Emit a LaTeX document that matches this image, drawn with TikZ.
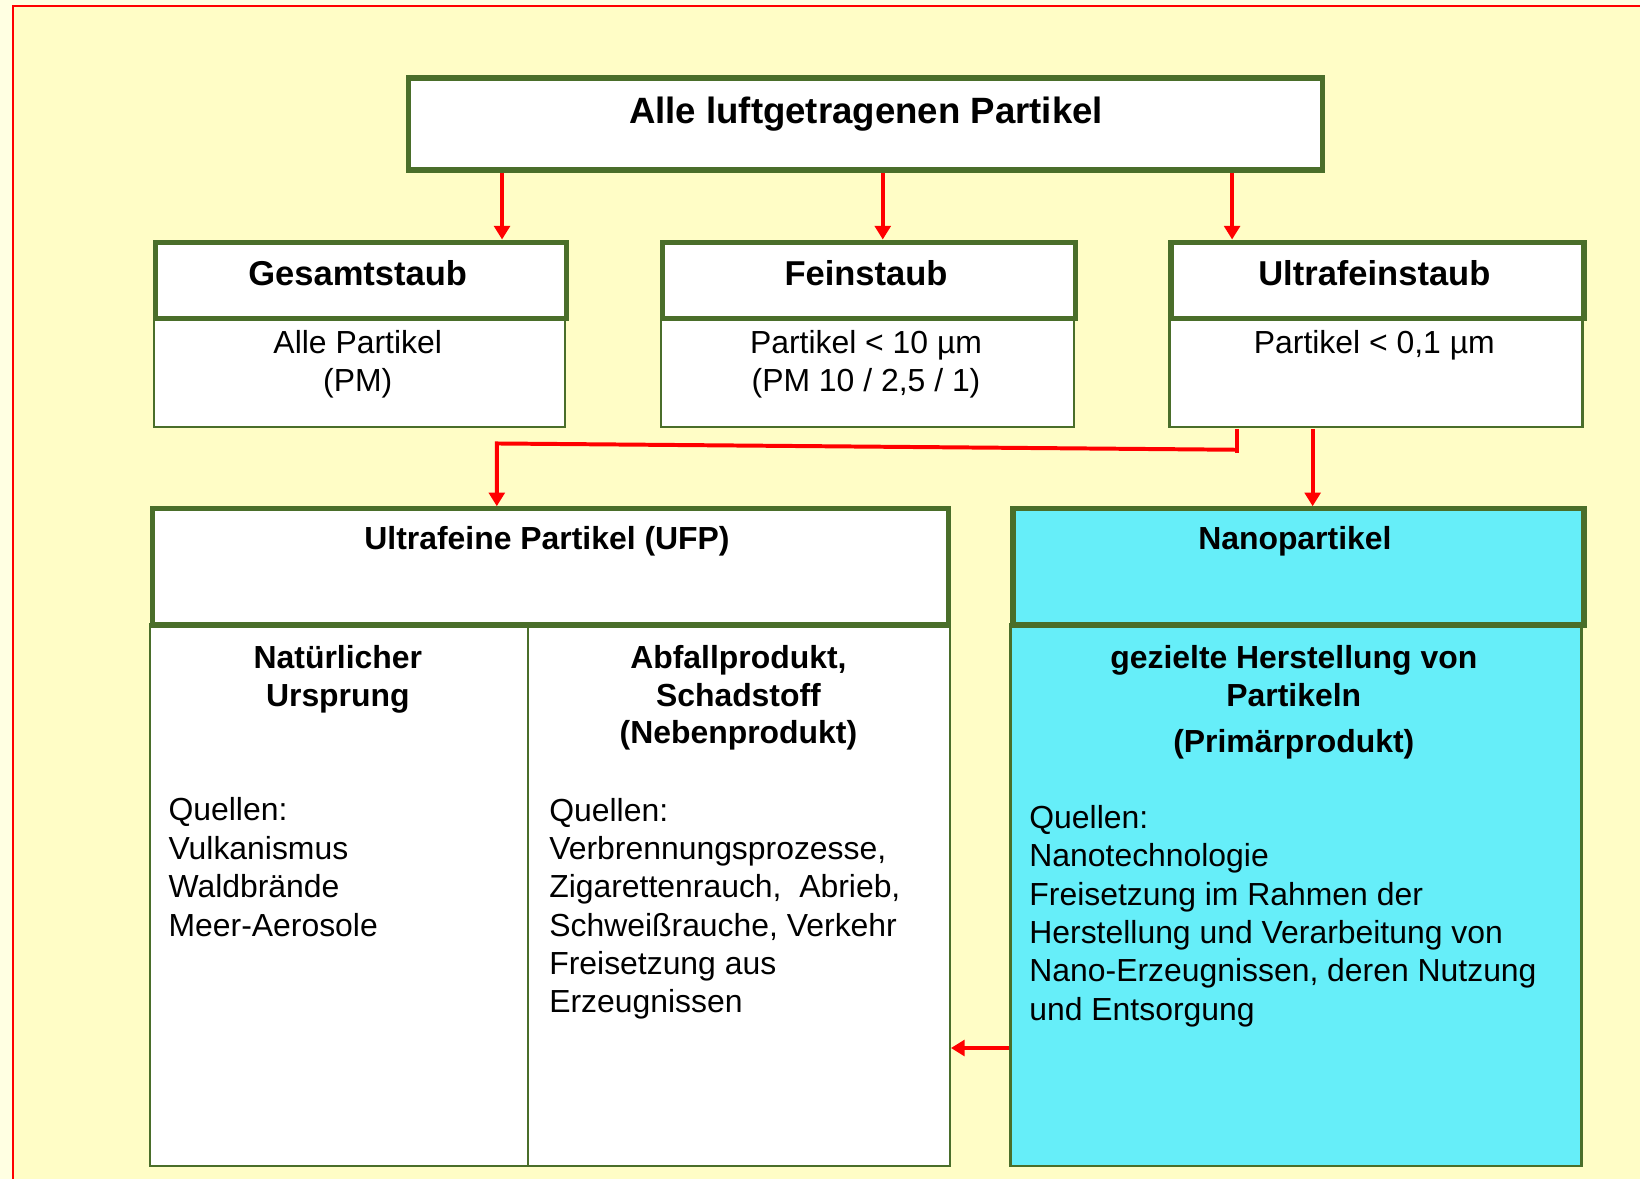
\documentclass[tikz,border=0pt]{standalone}
\usepackage{fontspec}
\setmainfont{Liberation Sans}
\usetikzlibrary{arrows.meta}
\definecolor{bgout}{RGB}{255,255,226}
\definecolor{bgin}{RGB}{255,253,198}
\definecolor{boxgreen}{RGB}{74,110,42}
\definecolor{nanocyan}{RGB}{102,238,249}
\definecolor{framered}{RGB}{255,0,0}
\begin{document}
\begin{tikzpicture}[x=1pt,y=-1pt,
  thickbox/.style={draw=boxgreen, line width=5pt, fill=white, inner sep=0, anchor=north west},
  thinbox/.style={draw=boxgreen, line width=2.2pt, fill=white, inner sep=0, anchor=north west},
  redarrow/.style={draw=framered, line width=3.8pt, -{Triangle[length=13pt,width=15pt]}},
  redline/.style={draw=framered, line width=3.8pt},
  titletext/.style={font=\fontsize{35}{40}\selectfont\bfseries, inner sep=0, anchor=base},
  headtext/.style={font=\fontsize{33}{38}\selectfont\bfseries, inner sep=0, anchor=base},
  subhead/.style={font=\fontsize{30.5}{36}\selectfont\bfseries, inner sep=0, align=center, anchor=base},
  bodytext/.style={font=\fontsize{30.5}{36.7}\selectfont, inner sep=0, align=left, anchor=base west},
  centertext/.style={font=\fontsize{30.5}{36}\selectfont, inner sep=0, align=center, anchor=base},
]
\useasboundingbox (0,0) rectangle (1568,1127);
\fill[bgout] (0,0) rectangle (1568,1127);
\fill[bgin] (12,6) rectangle (1568,1127);
\draw[framered, line width=2pt] (12,1127) -- (12,6) -- (1568,6);

% top box
\node[thickbox, minimum width=874, minimum height=88] (top) at (388,72) {};
\node[titletext] (toptxt) at (828,118) {Alle luftgetragenen Partikel};

% three category boxes
\node[thinbox, minimum width=393, minimum height=105] (gesL) at (146,302) {};
\node[thickbox, minimum width=393, minimum height=73] (gesH) at (146,229) {};
\node[thinbox, minimum width=395, minimum height=105] (feiL) at (631,302) {};
\node[thickbox, minimum width=395, minimum height=73] (feiH) at (631,229) {};
\node[thinbox, minimum width=395, minimum height=105] (ultL) at (1117,302) {};
\node[thickbox, minimum width=395, minimum height=73] (ultH) at (1117,229) {};

\node[headtext] (gestxt) at (342,273) {Gesamtstaub};
\node[headtext] (feitxt) at (828,273) {Feinstaub};
\node[headtext] (ulttxt) at (1314,273) {Ultrafeinstaub};

% multi-line nodes: base anchor = baseline of last line
\node[centertext] (gesbody) at (342,374) {Alle Partikel\\(PM)};
\node[centertext] (feibody) at (828,374) {Partikel < 10 µm\\(PM 10 / 2,5 / 1)};
\node[centertext] (ultbody) at (1314,338) {Partikel < 0,1 µm};

% UFP box
\node[thinbox, minimum width=765, minimum height=518] (ufpL) at (142,596) {};
\node[thickbox, minimum width=761, minimum height=111] (ufpH) at (143,484) {};
\draw[draw=boxgreen, line width=2.2pt] (505,0 |- ufpH.south) -- (505,0 |- ufpL.south);
\node[subhead] (ufptxt) at (523,525) {Ultrafeine Partikel (UFP)};

% Nano box
\node[thinbox, fill=nanocyan, minimum width=546, minimum height=518] (nanoL) at (965,596) {};
\node[thickbox, fill=nanocyan, minimum width=546, minimum height=111] (nanoH) at (966,484) {};
\node[subhead] (nanotxt) at (1238,525) {Nanopartikel};

% column contents
\node[subhead] (natH) at (323,675) {Natürlicher\\Ursprung};
\node[bodytext] (natB) at (161,895) {Quellen:\\Vulkanismus\\Waldbrände\\Meer-Aerosole};

\node[subhead] (abfH) at (706,711) {Abfallprodukt,\\Schadstoff\\(Nebenprodukt)};
\node[bodytext] (abfB) at (525,968.5) {Quellen:\\Verbrennungsprozesse,\\Zigarettenrauch,\ \ Abrieb,\\Schweißrauche, Verkehr\\Freisetzung aus\\Erzeugnissen};

\node[subhead] (gezH) at (1237,719) {gezielte Herstellung von\\Partikeln\\[8pt](Primärprodukt)};
\node[bodytext] (gezB) at (984,975.5) {Quellen:\\Nanotechnologie\\Freisetzung im Rahmen der\\Herstellung und Verarbeitung von\\Nano-Erzeugnissen, deren Nutzung\\und Entsorgung};

% connectors
\coordinate (x1) at (480,0);
\coordinate (x2) at (844,0);
\coordinate (x3) at (1178,0);
\draw[redarrow] (x1 |- top.south) -- (x1 |- gesH.north);
\draw[redarrow] (x2 |- top.south) -- (x2 |- feiH.north);
\draw[redarrow] (x3 |- top.south) -- (x3 |- ultH.north);

\coordinate (tick) at (1183,410);
\coordinate (bendR) at (1181,430);
\coordinate (bendL) at (475,424);
\draw[redline] (tick) -- (1183,433);
\draw[redarrow] (bendR) -- (bendL) -- (bendL |- ufpH.north);

\coordinate (x4) at (1255,410);
\draw[redarrow] (x4) -- (x4 |- nanoH.north);

\coordinate (y1) at (0,1002);
\draw[redarrow] (y1 -| nanoL.west) -- (y1 -| ufpL.east);
\end{tikzpicture}
\end{document}
